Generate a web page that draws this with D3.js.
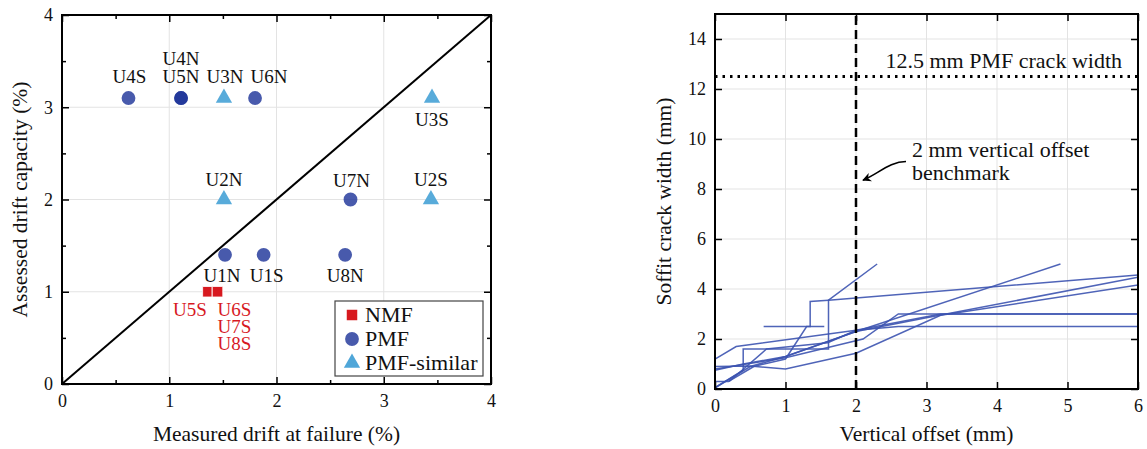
<!DOCTYPE html>
<html>
<head>
<meta charset="utf-8">
<script src="https://cdn.jsdelivr.net/npm/d3@7"></script>
<style>
  body { margin: 0; background: #fff; }
  svg { font-family: "Liberation Serif", "Times New Roman", serif; }
</style>
</head>
<body>
<svg id="chart" width="1147" height="449"></svg>
<script>
// left panel: assessed vs measured drift
const specimens     = ["U4S","U4N","U5N","U3N","U6N","U3S","U2N","U7N","U2S","U1N","U1S","U8N","U5S","U6S","U7S","U8S"];
const measuredDrift = [0.62, 1.11, 1.11, 1.51, 1.80, 3.45, 1.51, 2.69, 3.44, 1.52, 1.88, 2.64, 1.36, 1.45, 1.45, 1.45];
const assessedDrift = [3.1,  3.1,  3.1,  3.1,  3.1,  3.1,  2.0,  2.0,  2.0,  1.4,  1.4,  1.4,  1.0,  1.0,  1.0,  1.0];
const failureType   = ["PMF","PMF","PMF","PMF-similar","PMF","PMF-similar","PMF-similar","PMF","PMF-similar","PMF","PMF","PMF","NMF","NMF","NMF","NMF"];
const legendTypes   = ["NMF","PMF","PMF-similar"];
const driftTicks      = [0, 1, 2, 3, 4];
const driftMinorTicks = [0.5, 1.5, 2.5, 3.5];

// right panel: soffit crack width vs vertical offset, one curve per specimen
const offsetTicks = [0, 1, 2, 3, 4, 5, 6];
const crackTicks  = [0, 2, 4, 6, 8, 10, 12, 14];
const pmfCrackWidth = 12.5;
const offsetBenchmark = 2;
const crackCurves = [
  [[0,0.05],[0.4,0.75],[0.4,1.6],[1.61,1.6],[1.61,3.55],[2.3,5.0]],
  [[0,0.3],[0.19,0.3],[0.55,0.9],[1.0,1.2],[1.3,2.5],[1.35,2.5],[1.35,3.5],[1.61,3.55],[6,4.56]],
  [[0.69,2.5],[1.55,2.5]],
  [[0,1.2],[0.3,1.7],[2.0,2.35],[2.6,2.5],[6,2.5]],
  [[0,0.9],[0.5,0.92],[1.0,0.8],[2.0,1.43],[3.2,2.95],[6,4.16]],
  [[0,0.8],[1.0,1.25],[2.1,2.0],[2.6,3.0],[6,3.0]],
  [[0,0.05],[0.5,0.9],[1.0,1.3],[2.0,2.3],[4.9,5.0]],
  [[0,0.75],[0.4,1.0],[1.0,1.3],[2.0,2.3],[3.0,2.85],[6,4.47]],
  [[0.2,0.3],[0.73,1.6],[1.6,1.85],[2.0,2.35],[3.2,3.0],[6,3.0]]
];

// label placement (pixels from the marker centre)
const labelShift = {
  U4S:[1,-15], U4N:[0,-33], U5N:[0,-15], U3N:[1,-15], U6N:[14,-15], U3S:[0,28],
  U2N:[0,-14], U7N:[1,-13], U2S:[0,-14], U1N:[-3,27], U1S:[3,27], U8N:[0,27],
  U5S:[-18,24], U6S:[17,24], U7S:[17,41], U8S:[17,58]
};

const colors = { "NMF": "#d7191f", "PMF": "#1a3197", "PMF-similar": "#4fa6d8" };
const markerOpacity = { "NMF": 1, "PMF": 0.8, "PMF-similar": 0.95 };
const symbols = { "NMF": d3.symbolSquare, "PMF": d3.symbolCircle, "PMF-similar": d3.symbolTriangle };
const symSize = { "NMF": 110, "PMF": 150, "PMF-similar": 115 };

const svg = d3.select("#chart");

const xL = d3.scaleLinear().domain([0, 4]).range([62, 491]);
const yL = d3.scaleLinear().domain([0, 4]).range([384, 15]);
const xR = d3.scaleLinear().domain([0, 6]).range([715, 1138]);
const yR = d3.scaleLinear().domain([0, 15]).range([389, 14]);

function drawGrid(x, y, xs, ys) {
  const g = svg.append("g").attr("stroke", "#e3e3e3").attr("stroke-width", 1);
  g.selectAll(".gx").data(xs).join("line")
    .attr("x1", d => x(d)).attr("x2", d => x(d))
    .attr("y1", y.range()[0]).attr("y2", y.range()[1]);
  g.selectAll(".gy").data(ys).join("line")
    .attr("y1", d => y(d)).attr("y2", d => y(d))
    .attr("x1", x.range()[0]).attr("x2", x.range()[1]);
}

function drawAxes(x, y, xs, ys, xMinor, yMinor) {
  const [x0, x1] = x.range();
  const [y0, y1] = y.range();
  const put = (gen, tx, ty) => {
    const a = svg.append("g").attr("transform", `translate(${tx},${ty})`).call(gen);
    a.select(".domain").remove();
    a.attr("font-size", 18).attr("font-family", null);
    a.selectAll("line").attr("stroke", "#000").attr("stroke-width", 1.5);
    a.selectAll("text").attr("fill", "#111");
    return a;
  };
  put(d3.axisBottom(x).tickValues(xs).tickSize(-7).tickPadding(10).tickFormat(d3.format("d")), 0, y0);
  put(d3.axisTop(x).tickValues(xs).tickSize(-7).tickFormat(""), 0, y1);
  put(d3.axisLeft(y).tickValues(ys).tickSize(-7).tickPadding(9).tickFormat(d3.format("d")), x0, 0);
  put(d3.axisRight(y).tickValues(ys).tickSize(-7).tickFormat(""), x1, 0);
  if (xMinor) {
    put(d3.axisBottom(x).tickValues(xMinor).tickSize(-4).tickFormat(""), 0, y0);
    put(d3.axisTop(x).tickValues(xMinor).tickSize(-4).tickFormat(""), 0, y1);
    put(d3.axisLeft(y).tickValues(yMinor).tickSize(-4).tickFormat(""), x0, 0);
    put(d3.axisRight(y).tickValues(yMinor).tickSize(-4).tickFormat(""), x1, 0);
  }
  svg.append("rect")
    .attr("x", x0).attr("y", y1).attr("width", x1 - x0).attr("height", y0 - y1)
    .attr("fill", "none").attr("stroke", "#000").attr("stroke-width", 2);
}

// ---------- left panel
drawGrid(xL, yL, driftTicks.slice(1, -1), driftTicks.slice(1, -1));

svg.append("line")
  .attr("x1", xL(0)).attr("y1", yL(0)).attr("x2", xL(4)).attr("y2", yL(4))
  .attr("stroke", "#000").attr("stroke-width", 2);

const pts = specimens.map((s, i) => ({ name: s, x: measuredDrift[i], y: assessedDrift[i], type: failureType[i] }));

svg.append("g").selectAll("path").data(pts).join("path")
  .attr("transform", d => `translate(${xL(d.x)},${yL(d.y)})`)
  .attr("d", d => d3.symbol(symbols[d.type], symSize[d.type])())
  .attr("fill", d => colors[d.type])
  .attr("fill-opacity", d => markerOpacity[d.type])
  .attr("stroke", d => d.type === "NMF" ? "#fff" : "none")
  .attr("stroke-width", 0.8);

svg.append("g").selectAll("text").data(pts).join("text")
  .attr("x", d => xL(d.x) + labelShift[d.name][0])
  .attr("y", d => yL(d.y) + labelShift[d.name][1])
  .attr("text-anchor", "middle")
  .attr("font-size", 19)
  .attr("fill", d => d.type === "NMF" ? "#d7191f" : "#111")
  .text(d => d.name);

drawAxes(xL, yL, driftTicks, driftTicks, driftMinorTicks, driftMinorTicks);

// legend
const leg = svg.append("g").attr("transform", "translate(335,301)");
leg.append("rect").attr("width", 148).attr("height", 75)
  .attr("fill", "#fff").attr("stroke", "#444").attr("stroke-width", 1.2);
legendTypes.forEach((t, i) => {
  const cy = 14 + i * 24;
  leg.append("path")
    .attr("transform", `translate(17,${cy})`)
    .attr("d", d3.symbol(symbols[t], symSize[t])())
    .attr("fill", colors[t])
    .attr("fill-opacity", t === "PMF" ? 0.8 : 1);
  leg.append("text").attr("x", 30).attr("y", cy + 7)
    .attr("font-size", 22).attr("fill", "#111").text(t);
});

svg.append("text")
  .attr("x", (xL.range()[0] + xL.range()[1]) / 2).attr("y", 441)
  .attr("text-anchor", "middle").attr("font-size", 21.5).attr("fill", "#111")
  .text("Measured drift at failure (%)");
svg.append("text")
  .attr("transform", `translate(27,${(yL.range()[0] + yL.range()[1]) / 2}) rotate(-90)`)
  .attr("text-anchor", "middle").attr("font-size", 21.5).attr("fill", "#111")
  .text("Assessed drift capacity (%)");

// ---------- right panel
drawGrid(xR, yR, offsetTicks.slice(1, -1), crackTicks.slice(1));

svg.append("defs").append("clipPath").attr("id", "clipR")
  .append("rect").attr("x", xR(0)).attr("y", yR(15))
  .attr("width", xR(6) - xR(0)).attr("height", yR(0) - yR(15));

const line = d3.line().x(d => xR(d[0])).y(d => yR(d[1]));
svg.append("g").attr("clip-path", "url(#clipR)")
  .selectAll("path").data(crackCurves).join("path")
  .attr("d", line)
  .attr("fill", "none")
  .attr("stroke", "#3c53b0")
  .attr("stroke-width", 1.5)
  .attr("stroke-opacity", 0.9);

svg.append("line")
  .attr("x1", xR(0)).attr("x2", xR(6)).attr("y1", yR(pmfCrackWidth)).attr("y2", yR(pmfCrackWidth))
  .attr("stroke", "#000").attr("stroke-width", 2.8).attr("stroke-dasharray", "2.5 5");
svg.append("line")
  .attr("x1", xR(offsetBenchmark)).attr("x2", xR(offsetBenchmark)).attr("y1", yR(0)).attr("y2", yR(15))
  .attr("stroke", "#000").attr("stroke-width", 2.5).attr("stroke-dasharray", "9 5");

svg.append("text")
  .attr("x", xR(6) - 16).attr("y", yR(pmfCrackWidth) - 9)
  .attr("text-anchor", "end").attr("font-size", 22).attr("fill", "#111")
  .text("12.5 mm PMF crack width");

const note = svg.append("text")
  .attr("x", xR(offsetBenchmark) + 56).attr("y", yR(9.3))
  .attr("font-size", 22).attr("fill", "#111");
note.append("tspan").text("2 mm vertical offset");
note.append("tspan").attr("x", xR(offsetBenchmark) + 56).attr("dy", 23).text("benchmark");

svg.select("defs").append("marker")
  .attr("id", "arrow").attr("viewBox", "0 0 10 10").attr("refX", 9).attr("refY", 5)
  .attr("markerWidth", 9).attr("markerHeight", 9).attr("markerUnits", "userSpaceOnUse")
  .attr("orient", "auto")
  .append("path").attr("d", "M0,0 L10,5 L0,10 L3,5 Z").attr("fill", "#000");

const ax0 = xR(offsetBenchmark);
svg.append("path")
  .attr("d", `M${ax0 + 50},${yR(9.1)} C${ax0 + 34},${yR(9.1)} ${ax0 + 22},${yR(8.6)} ${ax0 + 7},${yR(8.35)}`)
  .attr("fill", "none").attr("stroke", "#000").attr("stroke-width", 1.6)
  .attr("marker-end", "url(#arrow)");

drawAxes(xR, yR, offsetTicks, crackTicks);

svg.append("text")
  .attr("x", (xR.range()[0] + xR.range()[1]) / 2).attr("y", 441)
  .attr("text-anchor", "middle").attr("font-size", 21.5).attr("fill", "#111")
  .text("Vertical offset (mm)");
svg.append("text")
  .attr("transform", `translate(671,${(yR.range()[0] + yR.range()[1]) / 2}) rotate(-90)`)
  .attr("text-anchor", "middle").attr("font-size", 21.5).attr("fill", "#111")
  .text("Soffit crack width (mm)");
</script>
</body>
</html>
